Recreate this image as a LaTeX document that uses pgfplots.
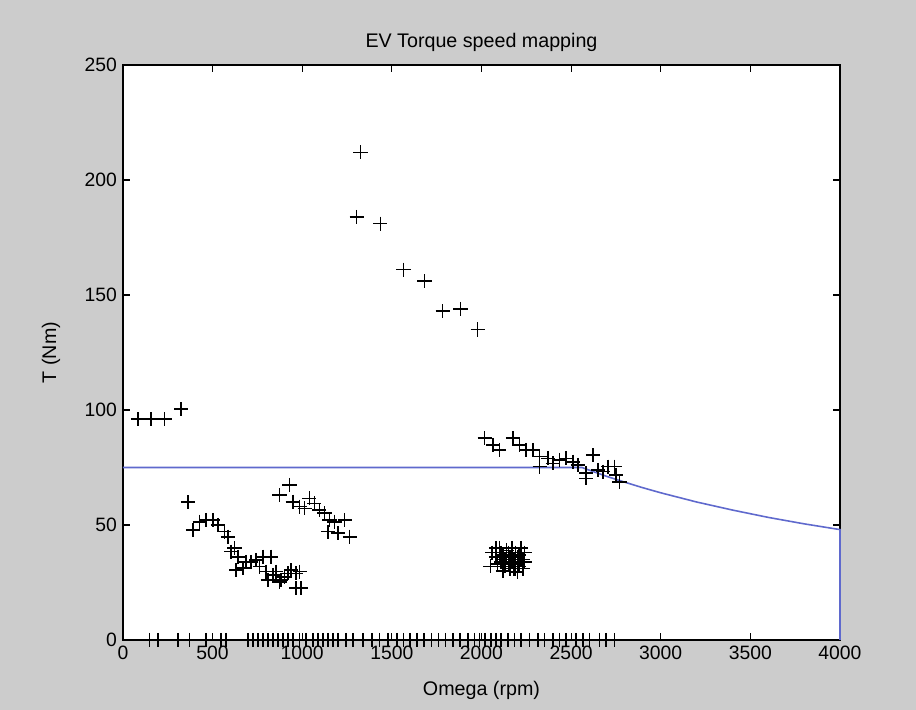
\documentclass[border=0pt]{standalone}
\usepackage{fontspec}
\setmainfont{Liberation Sans}
\usepackage{pgfplots}
\pgfplotsset{compat=1.18}
\definecolor{figgray}{RGB}{204,204,204}
\definecolor{mlblue}{RGB}{95,105,205}
\begin{document}
\begin{tikzpicture}
\fill[figgray] (-2.46cm,-1.4cm) rectangle (15.86cm,12.8cm);
\begin{axis}[
  scale only axis,
  width=14.34cm, height=11.5cm,
  xmin=0, xmax=4000, ymin=0, ymax=250,
  xtick={0,500,...,4000}, ytick={0,50,...,250},
  tick align=inside, major tick length=4pt,
  axis background/.style={fill=white},
  axis line style={line width=0.6pt},
  every tick/.style={black, line width=0.6pt},
  tick label style={font=\fontsize{11}{13}\selectfont},
  /pgf/number format/1000 sep={},
  /pgf/number format/assume math mode=true,
  title={EV Torque speed mapping},
  title style={font=\fontsize{11.2}{13}\selectfont, yshift=-2pt},
  xlabel={Omega (rpm)}, ylabel={T (Nm)},
  label style={font=\fontsize{11.2}{13}\selectfont},
  xlabel style={yshift=-5pt},
  ylabel style={yshift=7pt},
  clip=false,
]
\addplot[mlblue, line width=0.9pt] coordinates {
  (0,75) (2560,75) (2700,71.1) (2800,68.6) (2900,66.2) (3000,64) (3200,60)
  (3400,56.5) (3600,53.3) (3800,50.5) (4000,48) (4000,0)
};
\addplot[only marks, mark=+, mark size=4pt, line width=0.9pt, black] coordinates {
  (83,96) (157,96) (232,96) (325,100.4)
  (362,59.9) (390,47.8) (427,51.4) (464,52.2) (501,52.2) (529,50) (566,47.1) (585,44.9)
  (604,38.4) (622,39.9) (640,36.2) (631,30.4) (669,31.2) (687,34) (715,34) (743,34.8)
  (762,31.9) (780,36.2) (827,36.2) (799,29.7) (808,26.1) (836,28.3) (855,29.7) (873,25.3)
  (882,26) (901,27.5) (920,29) (938,30.4) (966,29) (985,29.7) (966,22.5) (994,22.5)
  (873,63) (929,67.4) (947,60.1) (985,58) (1013,57.2) (1040,61.6) (1068,59.4) (1096,56.5)
  (1124,55.1) (1152,52.2) (1180,51.4) (1236,52.2) (1143,47.1) (1198,46.4) (1264,44.9)
  (1325,212) (1303,184) (1436,181) (1565,161) (1682,156) (1783,143) (1883,144) (1978,135)
  (2017,87.7) (2063,84.8) (2100,82.6) (2175,87.7) (2212,84.8) (2249,82.6) (2286,82.6)
  (2324,79.7) (2324,75.4) (2370,79) (2398,76.8) (2435,78.3) (2473,79) (2510,77.5)
  (2537,76.1) (2584,72.5) (2584,70.3) (2621,80.4) (2649,73.9) (2677,73.2) (2705,75.4)
  (2742,75.4) (2751,71.7) (2770,68.8)
  (2050,32) (2060,38) (2080,36) (2100,40) (2110,34) (2120,30) (2120,37) (2140,39)
  (2150,33) (2160,36) (2170,40) (2180,31) (2180,35) (2190,38) (2200,33) (2210,37)
  (2220,40) (2230,31) (2230,35) (2240,38) (2100,36) (2130,35) (2160,31) (2200,29.5)
  (2090,33) (2110,38) (2130,32) (2140,36) (2150,38) (2170,34) (2190,34) (2200,36)
  (2210,32) (2220,35) (2120,34) (2170,37) (2190,31) (2240,34) (2080,40)
  (148,0) (194,0) (306,0) (371,0) (464,0) (548,0) (576,0) (696,0) (724,0) (752,0)
  (780,0) (808,0) (836,0) (864,0) (892,0) (920,0) (947,0) (985,0) (1022,0) (1059,0)
  (1087,0) (1115,0) (1143,0) (1171,0) (1198,0) (1245,0) (1282,0) (1340,0) (1390,0)
  (1430,0) (1480,0) (1530,0) (1565,0) (1600,0) (1640,0) (1680,0) (1720,0) (1760,0)
  (1800,0) (1840,0) (1880,0) (1924,0) (1961,0) (1989,0) (2020,0) (2054,0) (2082,0)
  (2110,0) (2147,0) (2184,0) (2221,0) (2268,0) (2314,0) (2352,0) (2398,0) (2435,0)
  (2473,0) (2528,0) (2565,0) (2603,0) (2658,0) (2696,0) (2742,0)
};
\end{axis}
\end{tikzpicture}
\end{document}
